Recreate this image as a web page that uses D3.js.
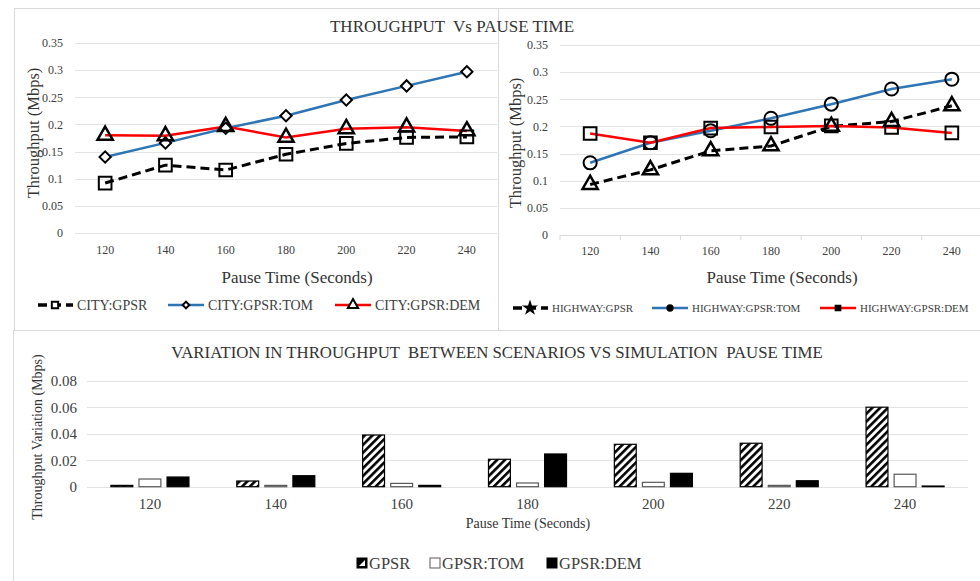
<!DOCTYPE html>
<html>
<head>
<meta charset="utf-8">
<script src="https://cdn.jsdelivr.net/npm/d3@7"></script>
<style>
  body { margin: 0; background: #fff; }
  svg, svg text { font-family: "Liberation Serif", "Times New Roman", serif; }
  svg { display: block; }
</style>
</head>
<body>
<svg width="980" height="581"></svg>
<script>
// pause times (x categories)
var categories = [120, 140, 160, 180, 200, 220, 240];

// city scenario throughput (Mbps)
var cityGPSR = [0.092, 0.125, 0.116, 0.145, 0.165, 0.176, 0.177];
var cityTOM  = [0.140, 0.166, 0.193, 0.216, 0.245, 0.271, 0.297];
var cityDEM  = [0.180, 0.179, 0.196, 0.176, 0.192, 0.195, 0.188];

// highway scenario throughput (Mbps)
var hwyGPSR = [0.093, 0.120, 0.155, 0.164, 0.200, 0.209, 0.238];
var hwyTOM  = [0.133, 0.170, 0.192, 0.215, 0.241, 0.269, 0.287];
var hwyDEM  = [0.187, 0.170, 0.197, 0.199, 0.201, 0.198, 0.188];

// variation between scenarios (Mbps)
var varGPSR = [0.0010, 0.0043, 0.0390, 0.0207, 0.0320, 0.0328, 0.0600];
var varTOM  = [0.0058, 0.0010, 0.0025, 0.0028, 0.0033, 0.0010, 0.0094];
var varDEM  = [0.0073, 0.0083, 0.0010, 0.0247, 0.0101, 0.0045, 0.0005];

var lineTicks = [0, 0.05, 0.1, 0.15, 0.2, 0.25, 0.3, 0.35];
var barTicks = [0, 0.02, 0.04, 0.06, 0.08];
var barSeries = ["GPSR", "GPSR:TOM", "GPSR:DEM"];

var serif = "Liberation Serif, Times New Roman, serif";
var svg = d3.select("svg");
var gridColor = "#e3e3e3",
    textColor = "#404040",
    blue = "#2e75b6",
    red = "#ff0000";

// panel borders
svg.append("rect").attr("x", 14.5).attr("y", 8.5).attr("width", 484).attr("height", 322)
    .attr("fill", "none").attr("stroke", "#d9d9d9");
svg.append("rect").attr("x", 498.5).attr("y", 8.5).attr("width", 500).attr("height", 322)
    .attr("fill", "none").attr("stroke", "#d9d9d9");
svg.append("rect").attr("x", 13.5).attr("y", 330.5).attr("width", 1000).attr("height", 300)
    .attr("fill", "none").attr("stroke", "#d9d9d9");

// hatch for GPSR bars
var defs = svg.append("defs");
defs.append("pattern")
    .attr("id", "hatch")
    .attr("patternUnits", "userSpaceOnUse")
    .attr("width", 5.5).attr("height", 5.5)
    .attr("patternTransform", "rotate(45)")
  .call(function(p) {
      p.append("rect").attr("width", 5.5).attr("height", 5.5).attr("fill", "#fff");
      p.append("rect").attr("width", 2.6).attr("height", 5.5).attr("fill", "#000");
  });

function symbolPath(kind, size) {
    if (kind == "square") return d3.symbol(d3.symbolSquare, size)();
    if (kind == "diamond") return d3.symbol(d3.symbolSquare, size)();
    if (kind == "triangle") return d3.symbol(d3.symbolTriangle, size)();
    if (kind == "circle") return d3.symbol(d3.symbolCircle, size)();
    if (kind == "pentagon") return d3.symbol(d3.symbolStar, size)();
}

function drawLineChart(cfg) {
    var g = svg.append("g");
    var x = d3.scaleBand().domain(categories).range(cfg.xRange);
    var y = d3.scaleLinear().domain([0, 0.35]).range(cfg.yRange);

    // gridlines
    g.selectAll(".grid")
        .data(lineTicks)
        .join("line")
        .attr("x1", cfg.xRange[0]).attr("x2", cfg.xRange[1])
        .attr("y1", d => Math.round(y(d)) + 0.5).attr("y2", d => Math.round(y(d)) + 0.5)
        .attr("stroke", gridColor).attr("stroke-width", 1.2);

    if (cfg.tickMarks) {
        g.selectAll(".tm")
            .data(d3.range(categories.length + 1))
            .join("line")
            .attr("x1", i => cfg.xRange[0] + i * x.step()).attr("x2", i => cfg.xRange[0] + i * x.step())
            .attr("y1", y(0)).attr("y2", y(0) + 5)
            .attr("stroke", "#d9d9d9");
        g.append("line")
            .attr("x1", cfg.xRange[0]).attr("x2", cfg.xRange[1])
            .attr("y1", y(0) + 0.5).attr("y2", y(0) + 0.5)
            .attr("stroke", "#d9d9d9");
    }

    var yAxis = g.append("g")
        .attr("transform", "translate(" + cfg.xRange[0] + ",0)")
        .call(d3.axisLeft(y).tickValues(lineTicks).tickSize(0).tickPadding(12).tickFormat(d3.format("")))
        .attr("font-family", serif);
    yAxis.select(".domain").remove();
    yAxis.selectAll("text").attr("font-size", 12).attr("fill", textColor);

    var xAxis = g.append("g")
        .attr("transform", "translate(0," + y(0) + ")")
        .call(d3.axisBottom(x).tickSize(0).tickPadding(cfg.xPad))
        .attr("font-family", serif);
    xAxis.select(".domain").remove();
    xAxis.selectAll("text").attr("font-size", 12).attr("fill", textColor);

    // axis titles
    g.append("text")
        .attr("x", cfg.xTitle[0]).attr("y", cfg.xTitle[1])
        .attr("text-anchor", "middle").attr("font-size", 17).attr("fill", "#333")
        .text("Pause Time (Seconds)");
    g.append("text")
        .attr("transform", "translate(" + cfg.yTitle[0] + "," + cfg.yTitle[1] + ") rotate(-90)")
        .attr("text-anchor", "middle").attr("dy", "0.35em")
        .attr("font-size", 16.5).attr("fill", "#333")
        .text("Throughput (Mbps)");

    var line = d3.line()
        .x((d, i) => x(categories[i]) + x.bandwidth() / 2)
        .y(d => y(d));

    cfg.series.forEach(function(s) {
        g.append("path")
            .datum(s.values)
            .attr("d", line)
            .attr("fill", "none")
            .attr("stroke", s.color)
            .attr("stroke-width", s.dash ? 3 : 2.5)
            .attr("stroke-dasharray", s.dash ? "9,5" : null);
    });
    cfg.series.forEach(function(s) {
        g.selectAll(null)
            .data(s.values)
            .join("path")
            .attr("d", symbolPath(s.marker, s.size))
            .attr("transform", (d, i) => "translate(" + (x(categories[i]) + x.bandwidth() / 2) + "," + y(d) + ")" +
                  (s.marker == "diamond" ? " rotate(45)" : ""))
            .attr("fill", s.fill)
            .attr("stroke", "#000")
            .attr("stroke-width", s.marker == "triangle" ? 2.5 : 2);
    });

    // legend
    cfg.series.forEach(function(s, i) {
        var lx = cfg.legendX[i], ly = cfg.legendY;
        g.append("line")
            .attr("x1", lx).attr("x2", lx + 36).attr("y1", ly).attr("y2", ly)
            .attr("stroke", s.color).attr("stroke-width", s.dash ? 3.5 : 2.5)
            .attr("stroke-dasharray", s.dash ? "9,5" : null)
            .attr("stroke-dashoffset", s.dash ? -1 : null);
        g.append("path")
            .attr("d", symbolPath(s.legendMarker || s.marker, s.legendSize))
            .attr("transform", "translate(" + (lx + 18) + "," + ly + ")" + (s.marker == "diamond" ? " rotate(45)" : ""))
            .attr("fill", s.legendFill).attr("stroke", "#000").attr("stroke-width", 2);
        g.append("text")
            .attr("x", lx + 40).attr("y", ly).attr("dy", "0.35em")
            .attr("font-size", cfg.legendFont).attr("fill", textColor)
            .text(s.name);
    });
}

drawLineChart({
    xRange: [75, 497], yRange: [233, 43], xPad: 12,
    xTitle: [297, 283], yTitle: [33, 133],
    legendX: [37, 168, 335], legendY: 305, legendFont: 14,
    series: [
        { name: "CITY:GPSR", values: cityGPSR, color: "#000", dash: true, marker: "square", size: 160, fill: "none", legendSize: 40, legendFill: "#fff" },
        { name: "CITY:GPSR:TOM", values: cityTOM, color: blue, marker: "diamond", size: 64, fill: "#fff", legendSize: 22, legendFill: "#fff" },
        { name: "CITY:GPSR:DEM", values: cityDEM, color: red, marker: "triangle", size: 100, fill: "none", legendSize: 45, legendFill: "#fff" }
    ]
});

drawLineChart({
    xRange: [560, 982], yRange: [235, 45], xPad: 11, tickMarks: true,
    xTitle: [782, 283], yTitle: [515, 143],
    legendX: [512, 652, 820], legendY: 308, legendFont: 11,
    series: [
        { name: "HIGHWAY:GPSR", values: hwyGPSR, color: "#000", dash: true, marker: "triangle", size: 100, fill: "none", legendMarker: "pentagon", legendSize: 30, legendFill: "#000" },
        { name: "HIGHWAY:GPSR:TOM", values: hwyTOM, color: blue, marker: "circle", size: 135, fill: "none", legendSize: 22, legendFill: "#000" },
        { name: "HIGHWAY:GPSR:DEM", values: hwyDEM, color: red, marker: "square", size: 160, fill: "none", legendSize: 22, legendFill: "#000" }
    ]
});

svg.append("text")
    .attr("x", 452).attr("y", 32)
    .attr("text-anchor", "middle").attr("font-size", 17).attr("fill", "#333")
    .attr("xml:space", "preserve")
    .text("THROUGHPUT  Vs PAUSE TIME");

// bottom bar chart
var bg = svg.append("g");
var x0 = d3.scaleBand().domain(categories).range([87, 968]).paddingInner(0.38).paddingOuter(0.19);
var x1 = d3.scaleBand().domain(barSeries).range([0, x0.bandwidth()]).paddingInner(0.22);
var yb = d3.scaleLinear().domain([0, 0.08]).range([486.7, 380.7]);

bg.selectAll(".grid")
    .data(barTicks)
    .join("line")
    .attr("x1", 87).attr("x2", 968)
    .attr("y1", d => Math.round(yb(d)) + 0.5).attr("y2", d => Math.round(yb(d)) + 0.5)
    .attr("stroke", gridColor).attr("stroke-width", 1.2);

var byAxis = bg.append("g")
    .attr("transform", "translate(87,0)")
    .call(d3.axisLeft(yb).tickValues(barTicks).tickSize(0).tickPadding(10).tickFormat(d3.format("")))
    .attr("font-family", serif);
byAxis.select(".domain").remove();
byAxis.selectAll("text").attr("font-size", 15).attr("fill", textColor);

var bxAxis = bg.append("g")
    .attr("transform", "translate(0," + yb(0) + ")")
    .call(d3.axisBottom(x0).tickSize(0).tickPadding(12))
    .attr("font-family", serif);
bxAxis.select(".domain").remove();
bxAxis.selectAll("text").attr("font-size", 15).attr("fill", textColor);

var barFill = { "GPSR": "url(#hatch)", "GPSR:TOM": "#fff", "GPSR:DEM": "#000" };
var barStroke = { "GPSR": "#000", "GPSR:TOM": "#595959", "GPSR:DEM": "#000" };
var barData = categories.map(function(c, i) {
    return { cat: c, vals: [varGPSR[i], varTOM[i], varDEM[i]] };
});

bg.selectAll(".grp")
    .data(barData)
    .join("g")
    .attr("transform", d => "translate(" + x0(d.cat) + ",0)")
    .selectAll("rect")
    .data(d => d.vals.map((v, j) => ({ key: barSeries[j], value: v })))
    .join("rect")
    .attr("x", d => x1(d.key))
    .attr("width", x1.bandwidth())
    .attr("y", d => yb(d.value))
    .attr("height", d => yb(0) - yb(d.value))
    .attr("fill", d => barFill[d.key])
    .attr("stroke", d => barStroke[d.key])
    .attr("stroke-width", 1.2);

svg.append("text")
    .attr("x", 497).attr("y", 358)
    .attr("text-anchor", "middle").attr("font-size", 16.8).attr("fill", "#333")
    .attr("xml:space", "preserve")
    .text("VARIATION IN THROUGHPUT  BETWEEN SCENARIOS VS SIMULATION  PAUSE TIME");

svg.append("text")
    .attr("x", 528).attr("y", 528)
    .attr("text-anchor", "middle").attr("font-size", 14).attr("fill", "#333")
    .text("Pause Time (Seconds)");
svg.append("text")
    .attr("transform", "translate(37,437) rotate(-90)")
    .attr("text-anchor", "middle").attr("dy", "0.35em")
    .attr("font-size", 14).attr("fill", "#333")
    .text("Throughput  Variation (Mbps)");

// bar legend
var legX = [357, 430, 547];
barSeries.forEach(function(s, i) {
    svg.append("rect")
        .attr("x", legX[i]).attr("y", 558).attr("width", 10).attr("height", 10)
        .attr("fill", barFill[s] == "url(#hatch)" ? "#000" : barFill[s])
        .attr("stroke", barStroke[s]).attr("stroke-width", 1);
    if (i == 0) {
        svg.append("path")
            .attr("d", "M" + (legX[i] + 2) + "," + 566 + "L" + (legX[i] + 8) + "," + 560 + "L" + (legX[i] + 8) + "," + 566 + "Z")
            .attr("fill", "#fff");
    }
    svg.append("text")
        .attr("x", legX[i] + 12).attr("y", 563).attr("dy", "0.35em")
        .attr("font-size", 16.5).attr("fill", textColor)
        .text(s);
});
</script>
</body>
</html>
